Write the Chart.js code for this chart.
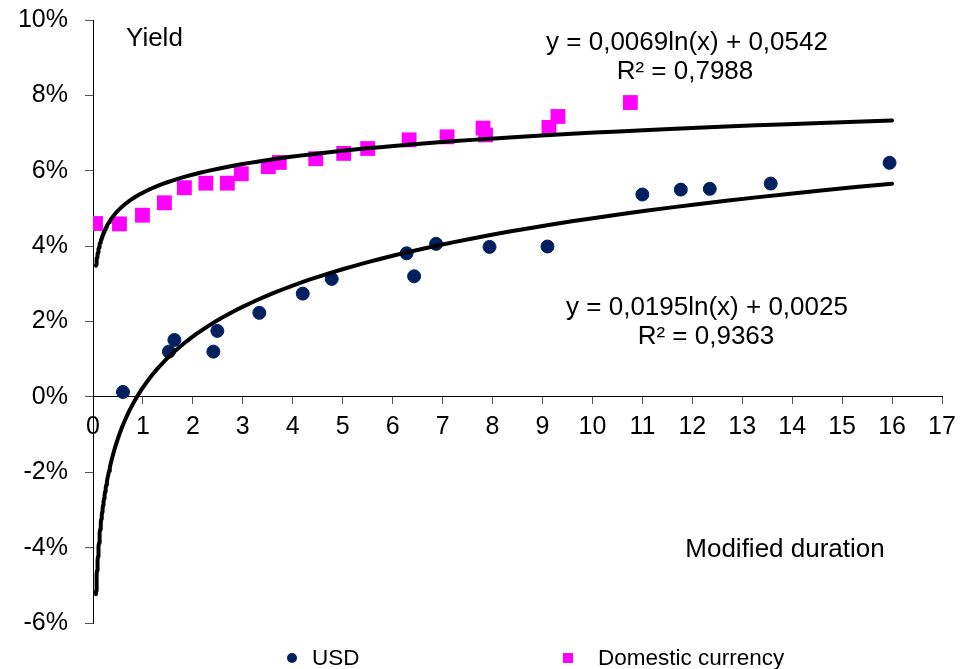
<!DOCTYPE html>
<html>
<head>
<meta charset="utf-8">
<script src="https://cdn.jsdelivr.net/npm/chart.js@4/dist/chart.umd.min.js"></script>
<style>
  body { margin: 0; background: #fff; }
</style>
</head>
<body>
<canvas id="myYieldChart" width="969" height="669"></canvas>
<script>
// USD bonds: modified duration vs yield (%)
var usdDuration = [0.6, 1.52, 1.63, 2.41, 2.49, 3.33, 4.2, 4.78, 6.28, 6.43, 6.87, 7.94, 9.1, 11.0, 11.77, 12.35, 13.57, 15.95];
var usdYield = [0.13, 1.2, 1.51, 1.2, 1.75, 2.23, 2.74, 3.13, 3.81, 3.2, 4.06, 3.98, 3.99, 5.37, 5.5, 5.52, 5.66, 6.21];

// Domestic currency bonds
var domDuration = [0.05, 0.53, 0.99, 1.43, 1.83, 2.26, 2.69, 2.97, 3.51, 3.73, 4.46, 5.02, 5.5, 6.33, 7.09, 7.81, 7.86, 9.13, 9.31, 10.76];
var domYield = [4.6, 4.59, 4.82, 5.15, 5.55, 5.67, 5.67, 5.92, 6.11, 6.22, 6.32, 6.46, 6.59, 6.82, 6.9, 7.13, 6.95, 7.15, 7.44, 7.81];

// log trendlines y = a*ln(x) + b, as printed on the chart
var trendSlope = [0.0195, 0.0069];      // USD, domestic
var trendIntercept = [0.0025, 0.0542];
var trendRange = [0.06, 16];

var seriesLabels = ["USD", "Domestic currency"];
var seriesColors = ["#002060", "#ff00ff"];

var font = "'Liberation Sans', Arial, sans-serif";

function toPoints(xs, ys) {
    return xs.map(function (x, i) { return { x: x, y: ys[i] }; });
}

function trendPoints(k) {
    var pts = [];
    var n = 120;
    var lo = Math.log(trendRange[0]), hi = Math.log(trendRange[1]);
    for (var i = 0; i <= n; i++) {
        var x = Math.exp(lo + (hi - lo) * i / n);
        pts.push({ x: x, y: 100 * (trendSlope[k] * Math.log(x) + trendIntercept[k]) });
    }
    return pts;
}

// extra texts and the legend
var notesPlugin = {
    id: "notes",
    afterDraw: function (chart) {
        var ctx = chart.ctx;
        ctx.save();
        ctx.fillStyle = "#000";
        ctx.font = "26px " + font;
        ctx.textBaseline = "middle";
        ctx.textAlign = "left";
        ctx.fillText("Yield", 126, 39);
        ctx.textAlign = "center";
        ctx.fillText("y = 0,0069ln(x) + 0,0542", 687, 43);
        ctx.fillText("R\u00b2 = 0,7988", 685, 72);
        ctx.fillText("y = 0,0195ln(x) + 0,0025", 707, 308);
        ctx.fillText("R\u00b2 = 0,9363", 706, 337);
        ctx.fillText("Modified duration", 785, 550);

        // legend
        ctx.font = "22.5px " + font;
        ctx.textAlign = "left";
        ctx.fillStyle = seriesColors[0];
        ctx.beginPath();
        ctx.arc(292, 658, 5, 0, Math.PI * 2);
        ctx.fill();
        ctx.fillStyle = seriesColors[1];
        ctx.fillRect(563, 653, 10, 10);
        ctx.fillStyle = "#000";
        ctx.fillText(seriesLabels[0], 312, 659);
        ctx.fillText(seriesLabels[1], 598, 659);
        ctx.restore();
    }
};

new Chart("myYieldChart", {
    type: "scatter",
    data: {
        datasets: [{
            label: seriesLabels[0],
            data: toPoints(usdDuration, usdYield),
            backgroundColor: seriesColors[0],
            borderColor: seriesColors[0],
            pointStyle: "circle",
            pointRadius: 6.5,
            order: 1
        }, {
            label: seriesLabels[1],
            data: toPoints(domDuration, domYield),
            backgroundColor: seriesColors[1],
            borderColor: seriesColors[1],
            pointStyle: "rect",
            pointRadius: 10.5,
            borderWidth: 0,
            order: 1
        }, {
            label: "USD trend",
            data: trendPoints(0),
            showLine: true,
            borderColor: "#000",
            borderWidth: 4,
            borderCapStyle: "round",
            borderJoinStyle: "round",
            pointRadius: 0,
            order: 0
        }, {
            label: "Domestic trend",
            data: trendPoints(1),
            showLine: true,
            borderColor: "#000",
            borderWidth: 4,
            borderCapStyle: "round",
            borderJoinStyle: "round",
            pointRadius: 0,
            order: 0
        }]
    },
    options: {
        responsive: false,
        animation: false,
        devicePixelRatio: 1,
        layout: { padding: { left: 0, top: 20, right: 27, bottom: 46 } },
        plugins: {
            legend: { display: false },
            tooltip: { enabled: false }
        },
        scales: {
            x: {
                type: "linear",
                min: 0,
                max: 17,
                position: { y: 0 },
                grid: { drawOnChartArea: false, tickLength: 7, color: "#555" },
                border: { color: "#000", width: 1 },
                ticks: {
                    stepSize: 1,
                    padding: 8,
                    color: "#000",
                    font: { family: font, size: 25 }
                }
            },
            y: {
                min: -6,
                max: 10,
                afterFit: function (scale) {
                    scale.width = 93;
                    scale.paddingTop = 0;
                    scale.paddingBottom = 0;
                },
                grid: { drawOnChartArea: false, tickLength: 8, color: "#555" },
                border: { color: "#000", width: 1 },
                ticks: {
                    stepSize: 2,
                    padding: 17,
                    color: "#000",
                    font: { family: font, size: 25 },
                    callback: function (v) { return v + "%"; }
                }
            }
        }
    },
    plugins: [notesPlugin]
});
</script>
</body>
</html>
